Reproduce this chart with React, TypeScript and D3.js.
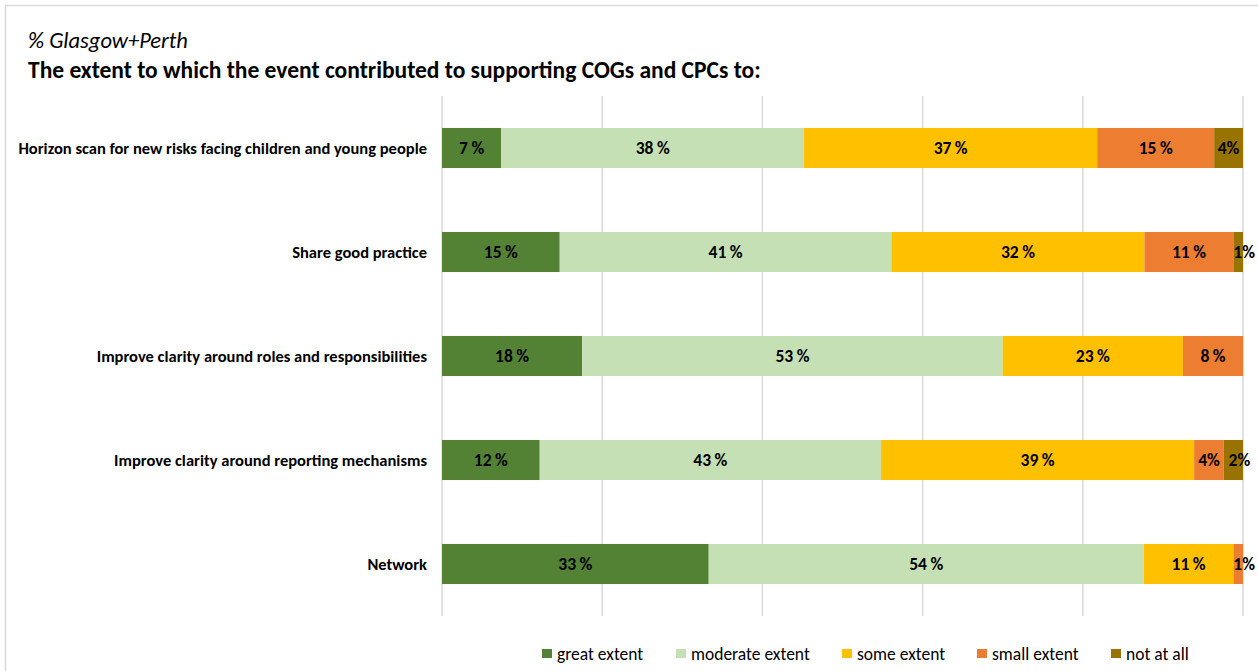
import React from "react";
import * as d3 from "d3";

const categories = [
  "Horizon scan for new risks facing children and young people",
  "Share good practice",
  "Improve clarity around roles and responsibilities",
  "Improve clarity around reporting mechanisms",
  "Network",
];
const seriesNames = ["great extent", "moderate extent", "some extent", "small extent", "not at all"];
const seriesColors = ["#548235", "#C5E0B4", "#FFC000", "#ED7D31", "#997300"];
const greatExtent = [7.4, 14.7, 17.5, 12.2, 33.3];
const moderateExtent = [37.8, 41.4, 52.5, 42.6, 54.3];
const someExtent = [36.6, 31.6, 22.5, 39.1, 11.2];
const smallExtent = [14.6, 11.1, 7.5, 3.7, 1.2];
const notAtAll = [3.6, 1.2, 0, 2.4, 0];
const xTicks = [0, 20, 40, 60, 80, 100];

const W = 1258;
const H = 671;
const FONT = "Carlito, 'Open Sans', sans-serif";

export default function App() {
  const series = [greatExtent, moderateExtent, someExtent, smallExtent, notAtAll];
  const left = 442;
  const right = 1243;
  const top = 96;
  const bottom = 616;
  const x = d3.scaleLinear().domain([0, 100]).range([left, right]);
  const y = d3.scaleBand<string>().domain(categories).range([top, bottom]).paddingInner(0.615).paddingOuter(0.3075);

  const rows = categories.map((c, i) => {
    let acc = 0;
    return series.map((s, k) => {
      const v = s[i];
      const x0 = acc;
      acc += v;
      return { k, v, x0, x1: acc };
    });
  });

  const fmt = (v: number) => {
    const r = Math.round(v);
    return v < 5 ? `${r}%` : `${r}\u2009%`;
  };

  const legendX = [542, 676, 842, 977, 1111];

  return (
    <svg width={W} height={H} style={{ position: "absolute", left: 0, top: 0, background: "#fff" }} fontFamily={FONT}>
      <rect x={5.5} y={5.5} width={W + 10} height={H + 10} fill="#fff" stroke="#d9d9d9" strokeWidth={1.5} />
      <text x={28} y={48} fontSize={22.5} fontStyle="italic" fill="#000">% Glasgow+Perth</text>
      <text x={28} y={78} fontSize={23.5} fontWeight="bold" fill="#000">
        The extent to which the event contributed to supporting COGs and CPCs to:
      </text>
      {xTicks.map((t) => (
        <line key={t} x1={x(t)} x2={x(t)} y1={top} y2={bottom} stroke="#d9d9d9" strokeWidth={1.5} />
      ))}
      {categories.map((c, i) => {
        const yy = y(c)!;
        const bh = y.bandwidth();
        return (
          <g key={c}>
            <text x={427} y={yy + bh / 2} dy="0.35em" textAnchor="end" fontSize={16.5} fontWeight="bold" fill="#000">
              {c}
            </text>
            {rows[i].filter((d) => d.v > 0).map((d) => (
              <rect key={d.k} x={x(d.x0)} y={yy} width={x(d.x1) - x(d.x0)} height={bh} fill={seriesColors[d.k]} />
            ))}
            {rows[i].filter((d) => d.v > 0).map((d) => {
              const segW = x(d.x1) - x(d.x0);
              const cx = (x(d.x0) + x(d.x1)) / 2 + (segW < 22 ? 6 : 0);
              return (
                <text
                  key={"l" + d.k}
                  x={cx}
                  y={yy + bh / 2}
                  dy="0.35em"
                  textAnchor="middle"
                  fontSize={17.5}
                  fontWeight="bold"
                  fill="#000"
                >
                  {fmt(d.v)}
                </text>
              );
            })}
          </g>
        );
      })}
      {seriesNames.map((n, k) => (
        <g key={n}>
          <rect x={legendX[k]} y={649} width={10} height={9} fill={seriesColors[k]} />
          <text x={legendX[k] + 15} y={653.5} dy="0.35em" fontSize={17.5} fill="#000">{n}</text>
        </g>
      ))}
    </svg>
  );
}
